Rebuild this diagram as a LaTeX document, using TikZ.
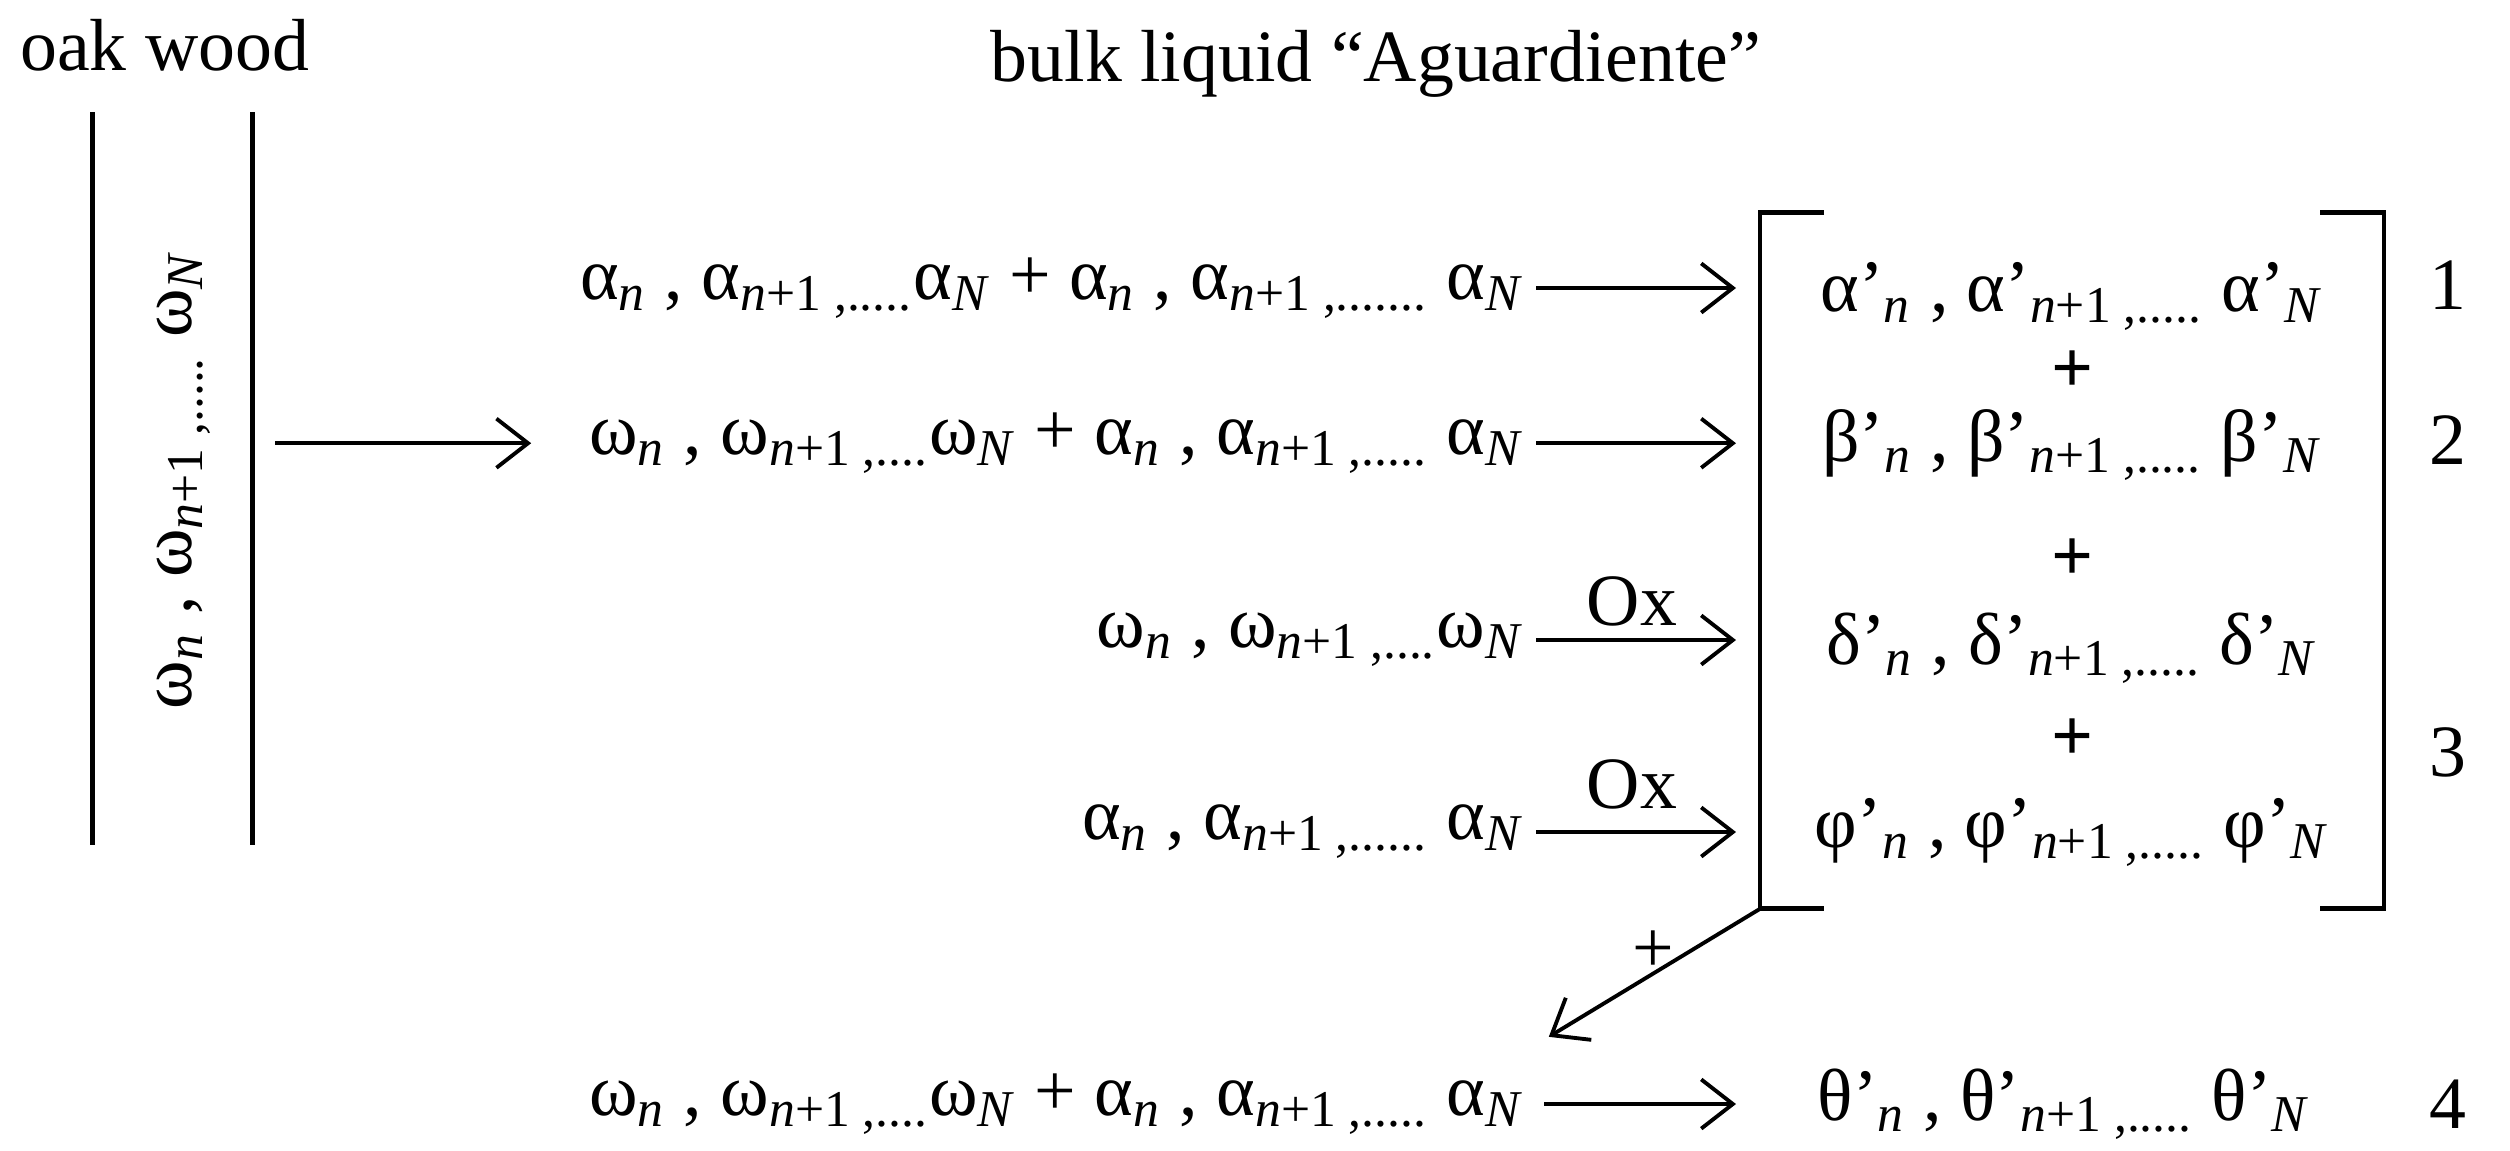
\documentclass[tikz,border=0pt]{standalone}
\usepackage{fontspec}
\setmainfont{Liberation Serif}
\usetikzlibrary{arrows.meta}
\newcommand{\subx}[1]{\textsubscript{#1}}
\newcommand{\ii}[1]{\textit{#1}}
\begin{document}
\begin{tikzpicture}[x=0.016cm,y=-0.016cm,
  every node/.style={font=\fontsize{21}{25}\selectfont, inner sep=1pt},
  arr/.style={->, line width=1.1pt, >={Straight Barb[length=9pt,width=14pt]}},
  ln/.style={line width=1.4pt}]
\useasboundingbox (0,0) rectangle (1568.75,718.75);
\node (oak) at (103,28) {oak wood};
\node (bulk) at (860,40) {bulk liquid “Aguardiente”};
\draw[ln] (58,70) coordinate (l1) -- (58,528);
\draw[ln] (158,70) -- (158,528);
\node[rotate=90] (w) at (115,300) {ω\subx{\ii{n}} , ω\subx{\ii{n}+1 ,.....} ω\subx{\ii{N}}};
\coordinate (a0) at (172,277); \coordinate (a1) at (332,277);
\draw[arr] (a0) -- (a1);
% left texts
\node[anchor=east] (r1) at (955,180) {α\subx{\ii{n}} , α\subx{\ii{n}+1 ,.....}α\subx{\ii{N}} + α\subx{\ii{n}} , α\subx{\ii{n}+1 ,.......} α\subx{\ii{N}}};
\node[anchor=east] (r2) at (955,277) {ω\subx{\ii{n}} , ω\subx{\ii{n}+1 ,....}ω\subx{\ii{N}} + α\subx{\ii{n}} , α\subx{\ii{n}+1 ,.....} α\subx{\ii{N}}};
\node[anchor=east] (r3) at (955,400) {ω\subx{\ii{n}} , ω\subx{\ii{n}+1 ,....}ω\subx{\ii{N}}};
\node[anchor=east] (r4) at (955,520) {α\subx{\ii{n}} , α\subx{\ii{n}+1 ,......} α\subx{\ii{N}}};
\node[anchor=east] (r5) at (955,690) {ω\subx{\ii{n}} , ω\subx{\ii{n}+1 ,....}ω\subx{\ii{N}} + α\subx{\ii{n}} , α\subx{\ii{n}+1 ,.....} α\subx{\ii{N}}};
\foreach \y/\n in {180/1,277/2,400/3,520/4}{\coordinate (s\n) at (960,\y); \coordinate (e\n) at (1085,\y); \draw[arr] (s\n) -- (e\n);}
\coordinate (s5) at (965,690); \coordinate (e5) at (1085,690); \draw[arr] (s5) -- (e5);
\node (ox1) at (1020,376) {Ox};
\node (ox2) at (1020,490) {Ox};
% bracket
\draw[ln] (1140,133) -- (1100,133) -- (1100,568) coordinate (bl) -- (1140,568);
\draw[ln] (1450,133) -- (1490,133) -- (1490,568) -- (1450,568);
\node (p1) at (1295,185) {α’\subx{\ii{n}} , α’\subx{\ii{n}+1 ,.....} α’\subx{\ii{N}}};
\node (pl1) at (1295,232) {\textbf{+}};
\node (p2) at (1295,278) {β’\subx{\ii{n}} , β’\subx{\ii{n}+1 ,.....} β’\subx{\ii{N}}};
\node (pl2) at (1295,350) {\textbf{+}};
\node (p3) at (1295,405) {δ’\subx{\ii{n}} , δ’\subx{\ii{n}+1 ,.....} δ’\subx{\ii{N}}};
\node (pl3) at (1295,462) {\textbf{+}};
\node (p4) at (1295,520) {φ’\subx{\ii{n}} , φ’\subx{\ii{n}+1 ,.....} φ’\subx{\ii{N}}};
\node (p5) at (1290,690) {θ’\subx{\ii{n}} , θ’\subx{\ii{n}+1 ,.....} θ’\subx{\ii{N}}};
\node (n1) at (1530,178) {1};
\node (n2) at (1530,275) {2};
\node (n3) at (1530,470) {3};
\node (n4) at (1530,690) {4};
\coordinate (d1) at (968,648);
\draw[arr] (bl) -- (d1);
\node (plus) at (1033,595) {+};
\end{tikzpicture}
\end{document}
